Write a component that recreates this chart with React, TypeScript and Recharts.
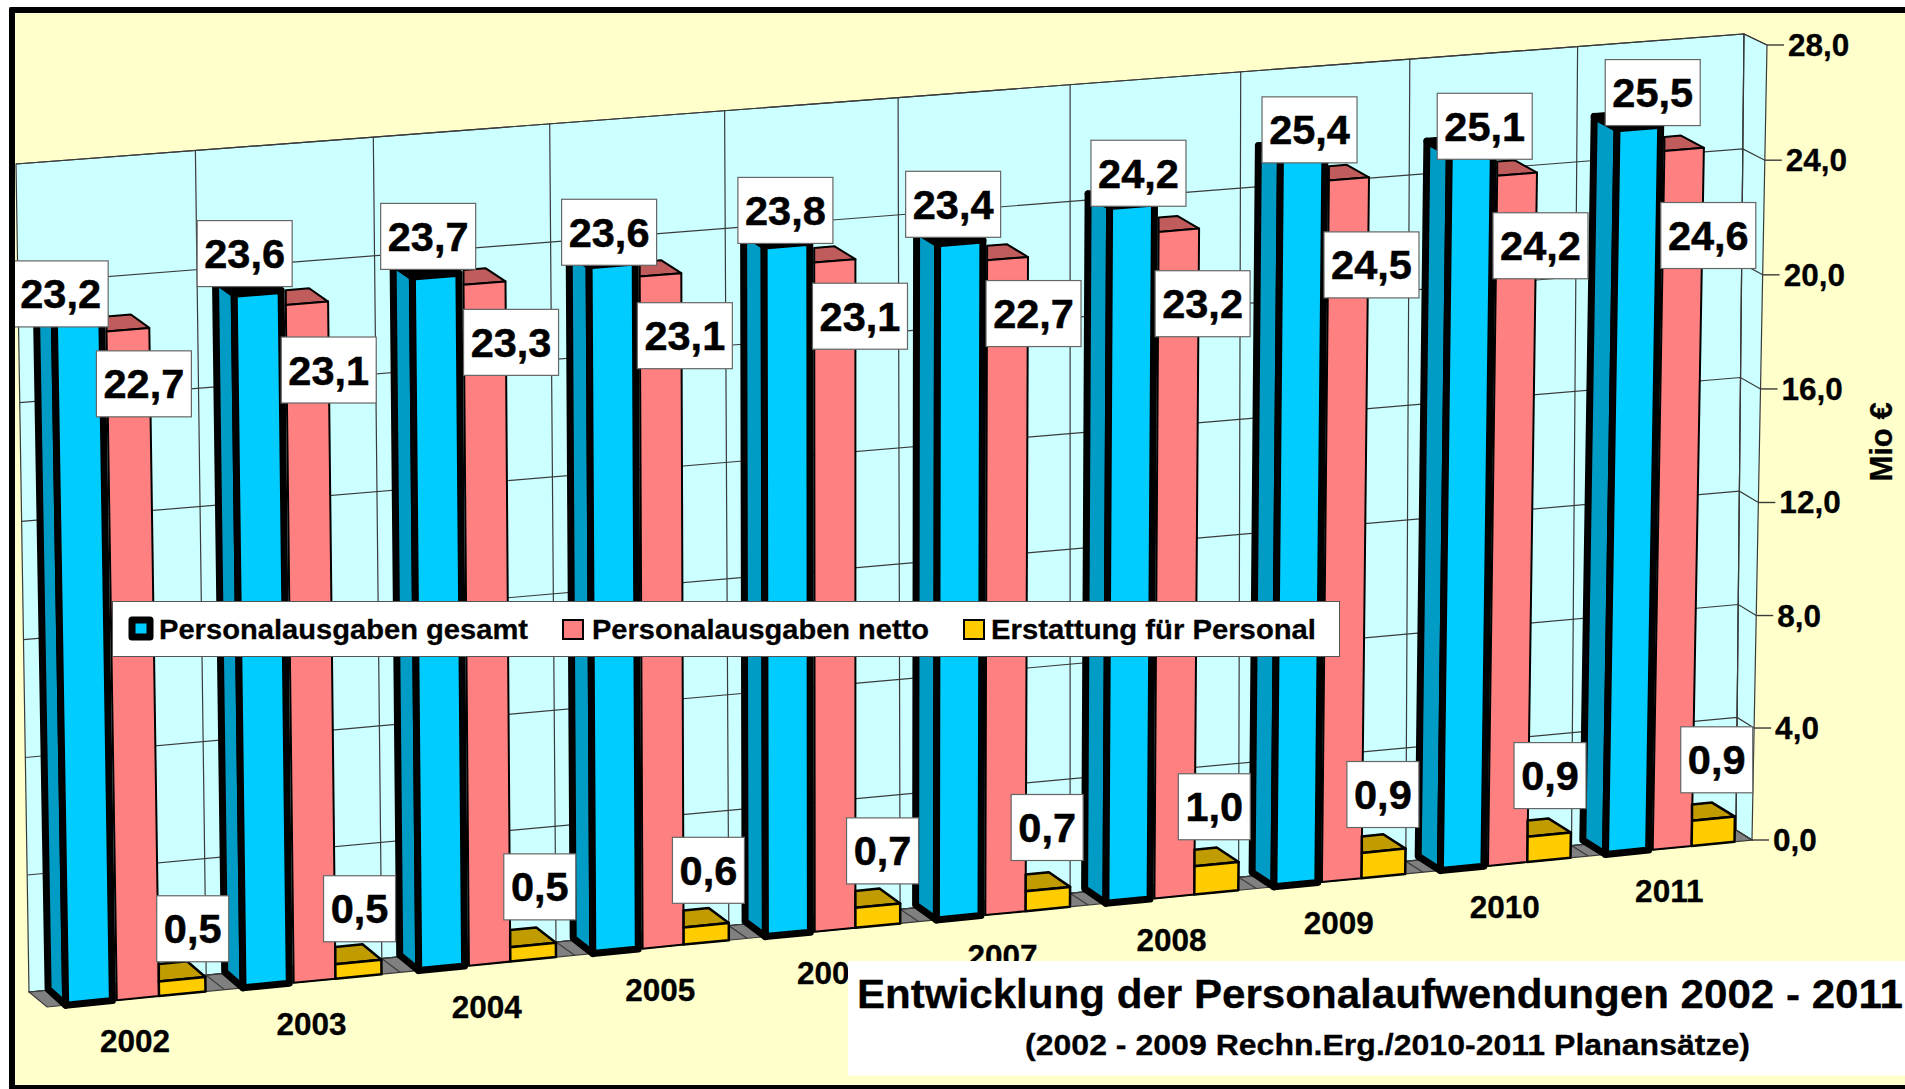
import React from 'react';
import { ComposedChart, Bar, Line, XAxis, YAxis, CartesianGrid, LabelList, Legend } from 'recharts';

const years = ['2002','2003','2004','2005','2006','2007','2008','2009','2010','2011'];
const gesamt = [23.2,23.6,23.7,23.6,23.8,23.4,24.2,25.4,25.1,25.5];
const netto = [22.7,23.1,23.3,23.1,23.1,22.7,23.2,24.5,24.2,24.6];
const erstattung = [0.5,0.5,0.5,0.6,0.7,0.7,1.0,0.9,0.9,0.9];
const yTicks = [0,4,8,12,16,20,24,28];
const data = years.map((y,i)=>({year:y,gesamt:gesamt[i],netto:netto[i],erstattung:erstattung[i]}));

const FONT = '"Liberation Sans", Arial, sans-serif';
const W = 1905, H = 1089;
const PL = 100, PT = 100, PW = 1600, PH = 800;

type Pt = [number, number];
function homography(p0: Pt, p1: Pt, p2: Pt, p3: Pt) {
  const dx1=p1[0]-p2[0], dx2=p3[0]-p2[0], dx3=p0[0]-p1[0]+p2[0]-p3[0];
  const dy1=p1[1]-p2[1], dy2=p3[1]-p2[1], dy3=p0[1]-p1[1]+p2[1]-p3[1];
  const den=dx1*dy2-dx2*dy1;
  const g=(dx3*dy2-dx2*dy3)/den, h=(dx1*dy3-dx3*dy1)/den;
  const a=p1[0]-p0[0]+g*p1[0], b=p3[0]-p0[0]+h*p3[0], c=p0[0];
  const d=p1[1]-p0[1]+g*p1[1], e=p3[1]-p0[1]+h*p3[1], f=p0[1];
  return (u:number,v:number):Pt=>{const w=g*u+h*v+1;return [(a*u+b*v+c)/w,(d*u+e*v+f)/w];};
}
// quads: bottom-left, bottom-right, top-right, top-left
const F = homography([47,1007],[1752,840],[1767,45],[33,178]);     // front plane
const WALL = homography([29,992],[1736,830],[1744,34],[16,164]);   // back wall
const BK = homography([29.5,991],[1729,826],[1744,33],[15,165]);   // back of the bars

const U=(x:number)=>(x-PL)/PW;
const V=(y:number)=>(PT+PH-y)/PH;
const pts=(a:Pt[])=>a.map(p=>p[0].toFixed(1)+','+p[1].toFixed(1)).join(' ');
const GRID='#3a3a3a';

const walls=()=>(
  <g key="walls">
    <polygon points={pts([WALL(0,0),WALL(1,0),WALL(1,1),WALL(0,1)])} fill="#CCFFFF" stroke={GRID} strokeWidth={1.2}/>
    <polygon points={pts([WALL(1,0),F(1,0),F(1,1),WALL(1,1)])} fill="#CCFFFF" stroke={GRID} strokeWidth={1.2}/>
    <polygon points={pts([WALL(0,0),WALL(1,0),F(1,0),F(0,0)])} fill="#808080" stroke={GRID} strokeWidth={1.2}/>
  </g>
);
const hLine=(p:any)=>{
  const v=V(p.y1); const a=WALL(0,v),b=WALL(1,v),c=F(1,v);
  return <g key={p.key}>
    {p.index===0?walls():null}
    <polyline points={pts([a,b,c])} fill="none" stroke={GRID} strokeWidth={1.2}/>
  </g>;
};
const vLine=(p:any)=>{
  const u=U(p.x1); const a=WALL(u,1),b=WALL(u,0),c=F(u,0);
  return <polyline key={p.key} points={pts([a,b,c])} fill="none" stroke={GRID} strokeWidth={1.2}/>;
};

const clipBack=(fl:Pt,br:Pt,bl:Pt):Pt=>{
  const t=(br[0]-fl[0])/(br[0]-bl[0]);
  return [fl[0],br[1]+t*(bl[1]-br[1])];
};
const BarGesamt=(p:any)=>{
  const u0=U(p.x),u1=U(p.x+p.width),v=V(p.y);
  const s={stroke:'#000',strokeWidth:7,strokeLinejoin:'round' as const};
  return <g>
    <polygon points={pts([F(u0,v),F(u1,v),BK(u1,v),BK(u0,v)])} fill="#000" {...s}/>
    <polygon points={pts([F(u0,0),F(u0,v),BK(u0,v),BK(u0,0)])} fill="#009CC6" {...s}/>
    <polygon points={pts([F(u0,0),F(u1,0),F(u1,v),F(u0,v)])} fill="#00CCFF" {...s}/>
  </g>;
};
const flatBar=(front:string,top:string,sw:number,inset:number)=>(p:any)=>{
  const u0=U(p.x)+inset,u1=U(p.x+p.width),v=V(p.y);
  const fl=F(u0,v),fr=F(u1,v),br=BK(u1,v),bl=BK(u0,v);
  const cut=clipBack(fl,br,bl);
  return <g stroke="#000" strokeWidth={sw} strokeLinejoin="round">
    <polygon points={pts([fl,fr,br,cut])} fill={top}/>
    <polygon points={pts([F(u0,0),F(u1,0),fr,fl])} fill={front}/>
  </g>;
};
const BarNetto=flatBar('#FF8080','#C05C5C',2,0.0025);
const BarErst=flatBar('#FFCC00','#C09C00',2.5,0);

const XTick=(p:any)=>{
  const u=U(p.x); const a=F(u,0);
  return <text x={a[0]-1} y={a[1]+54} textAnchor="middle" fontFamily={FONT} fontWeight="bold" fontSize={31.5} stroke="#000" strokeWidth={0.3} fill="#000">{p.payload.value}</text>;
};
const YTick=(p:any)=>{
  const v=V(p.y); const a=F(1,v);
  return <g>
    <line x1={a[0]} y1={a[1]} x2={a[0]+17} y2={a[1]} stroke={GRID} strokeWidth={1.4}/>
    <text x={a[0]+21} y={a[1]+11} fontFamily={FONT} fontWeight="bold" fontSize={31.5} stroke="#000" strokeWidth={0.3} fill="#000">{Number(p.payload.value).toFixed(1).replace('.',',')}</text>
  </g>;
};

const lerp=(a:number,b:number,u:number)=>a+(b-a)*u;
const makeLabel=(shift:{x:[number,number],y:[number,number]},nudge:Pt[])=>(p:any)=>{
  const fx=p.x??p.viewBox?.x, fy=p.y??p.viewBox?.y;
  const u=U(fx),v=V(fy); const a=F(u,v);
  const t=(u-0.05)/0.9;
  const n=nudge[p.index]||[0,0];
  const cx=a[0]+lerp(shift.x[0],shift.x[1],t)+n[0];
  const cy=a[1]+lerp(shift.y[0],shift.y[1],t)+n[1];
  const s=Number(p.value).toFixed(1).replace('.',',');
  const bw=s.length>3?95:72;
  return <g>
    <rect x={cx-bw/2} y={cy-33} width={bw} height={66} fill="#fff" stroke="#666" strokeWidth={1.2}/>
    <text x={cx} y={cy+14.5} textAnchor="middle" fontFamily={FONT} fontWeight="bold" fontSize={41.5} stroke="#000" strokeWidth={0.5} fill="#000">{s}</text>
  </g>;
};
// hand-placed label nudges of the original chart (px)
const nudgeG:Pt[]=[[-2,6],[-1,-8],[1,-8],[2,-1],[0,-3],[-9,-7],[1,-1],[-2,4],[1,5],[-2,-4]];
const nudgeN:Pt[]=[[-1,0],[4,9],[8,-2],[5,-4],[5,-13],[5,-17],[2,-2],[0,7],[0,-11],[0,0]];
const nudgeE:Pt[]=[[0,0],[-10,-2],[-5,-6],[-10,-2],[-8,-1],[-14,-7],[-16,-2],[-15,0],[-14,-2],[-12,-1]];
const LabelG=makeLabel({x:[-63,-28],y:[-27,-27]},nudgeG);
const LabelN=makeLabel({x:[19,26],y:[54,86]},nudgeN);
const LabelE=makeLabel({x:[57,58],y:[-55,-62]},nudgeE);

const legendItems=[
  {name:'Personalausgaben gesamt',textX:159,textW:369},
  {name:'Personalausgaben netto',textX:592,textW:337},
  {name:'Erstattung für Personal',textX:991,textW:325},
];
const LEG_L=112,LEG_T=601,LEG_W=1228,LEG_H=56;
const LegendBox=()=>(
  <svg width={LEG_W} height={LEG_H} style={{display:'block'}}>
    <rect x={0.5} y={0.5} width={LEG_W-1} height={LEG_H-1} fill="#fff" stroke="#555" strokeWidth={1}/>
    <rect x={20} y={19} width={18} height={17} fill="#00CCFF" stroke="#000" strokeWidth={7} strokeLinejoin="round"/>
    <rect x={451} y={19} width={20} height={19} fill="#FF8080" stroke="#000" strokeWidth={2}/>
    <rect x={852} y={19} width={20} height={19} fill="#FFCC00" stroke="#000" strokeWidth={2}/>
    {legendItems.map(it=>(
      <text key={it.name} x={it.textX-LEG_L} y={38} fontFamily={FONT} fontWeight="bold" fontSize={28.5} stroke="#000" strokeWidth={0.3} textLength={it.textW} lengthAdjust="spacingAndGlyphs" fill="#000">{it.name}</text>
    ))}
  </svg>
);

export default function App(){
  return <div style={{position:'absolute',left:0,top:0,width:W,height:H,overflow:'hidden',background:'#fff'}}>
    <div style={{position:'absolute',left:9,top:7,width:W,height:H,background:'#FFFFCC'}}/>
    <div style={{position:'absolute',left:0,top:0}}>
      <ComposedChart width={W} height={H} data={data} barCategoryGap="10.5%" barGap={0}
        margin={{top:PT,left:PL-60,right:W-PL-PW,bottom:H-PT-PH-30}}>
        <CartesianGrid horizontal={hLine} vertical={vLine}
          verticalCoordinatesGenerator={({offset}:any)=>years.map((_,i)=>offset.left+(i+1)*offset.width/years.length)}/>
        <XAxis dataKey="year" interval={0} tick={XTick} tickLine={false} axisLine={false}/>
        <YAxis domain={[0,28]} ticks={yTicks} tick={YTick} tickLine={false} axisLine={false} width={60}/>
        <Bar dataKey="gesamt" isAnimationActive={false} shape={BarGesamt} fill="#00CCFF"/>
        <Bar dataKey="netto" isAnimationActive={false} shape={BarNetto} fill="#FF8080"/>
        <Bar dataKey="erstattung" isAnimationActive={false} shape={BarErst} fill="#FFCC00"/>
        <Line dataKey="gesamt" stroke="none" dot={false} activeDot={false} isAnimationActive={false}><LabelList dataKey="gesamt" content={LabelG}/></Line>
        <Line dataKey="netto" stroke="none" dot={false} activeDot={false} isAnimationActive={false}><LabelList dataKey="netto" content={LabelN}/></Line>
        <Line dataKey="erstattung" stroke="none" dot={false} activeDot={false} isAnimationActive={false}><LabelList dataKey="erstattung" content={LabelE}/></Line>
        <Legend layout="horizontal" verticalAlign="middle" align="center" content={LegendBox}
          wrapperStyle={{left:LEG_L,top:LEG_T,width:LEG_W,height:LEG_H}}/>
      </ComposedChart>
    </div>
    <svg width={W} height={H} style={{position:'absolute',left:0,top:0,pointerEvents:'none'}}>
      <rect x={848} y={961} width={1100} height={114.5} fill="#fff"/>
      <text x={857} y={1008} fontFamily={FONT} fontWeight="bold" fontSize={41} stroke="#000" strokeWidth={0.3} textLength={1046} lengthAdjust="spacingAndGlyphs" fill="#000">Entwicklung der Personalaufwendungen 2002 - 2011</text>
      <text x={1025} y={1055} fontFamily={FONT} fontWeight="bold" fontSize={30} stroke="#000" strokeWidth={0.3} textLength={725} lengthAdjust="spacingAndGlyphs" fill="#000">(2002 - 2009 Rechn.Erg./2010-2011 Planansätze)</text>
      <text transform="translate(1892,442) rotate(-90)" textAnchor="middle" fontFamily={FONT} fontWeight="bold" fontSize={31} stroke="#000" strokeWidth={0.3} fill="#000">Mio €</text>
    </svg>
    <div style={{position:'absolute',left:9,top:7,width:W,height:H-7,boxSizing:'border-box',borderLeft:'6.5px solid #000',borderTop:'6.5px solid #000',borderBottomWidth:0,borderRadius:2,pointerEvents:'none'}}/>
    <div style={{position:'absolute',left:9,top:1085,width:W,height:4,background:'#000'}}/>
  </div>;
}
